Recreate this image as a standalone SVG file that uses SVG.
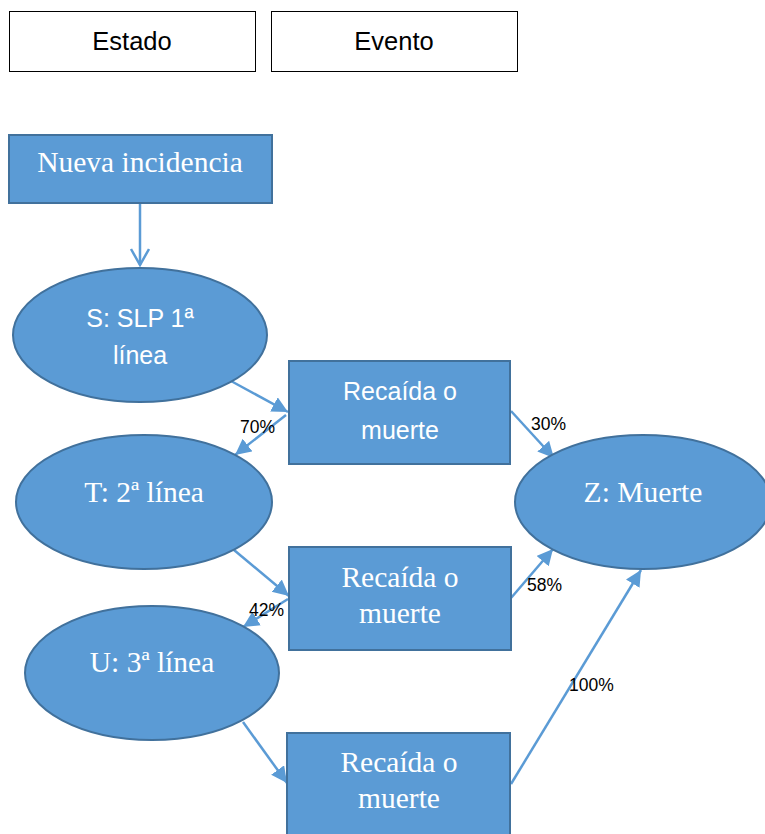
<svg xmlns="http://www.w3.org/2000/svg" width="765" height="834" viewBox="0 0 765 834">
<style>
.legend{fill:#fff;stroke:#000;stroke-width:1}
.lt{font-family:"Liberation Sans",Arial,sans-serif;font-size:25.5px;fill:#000;text-anchor:middle}
.node{fill:#5B9BD5;stroke:#41719C;stroke-width:2}
.serif{font-family:"Liberation Serif","Times New Roman",serif;font-size:29.5px;fill:#fff;text-anchor:middle}
.sans{font-family:"Liberation Sans",Arial,sans-serif;font-size:25px;fill:#fff;text-anchor:middle}
.conn{stroke:#5B9BD5;stroke-width:2.5;fill:none}
.pct{font-family:"Liberation Sans",Arial,sans-serif;font-size:17.5px;fill:#000}
</style>
<defs>
<marker id="tri" markerUnits="userSpaceOnUse" markerWidth="20" markerHeight="20" refX="16" refY="8" orient="auto">
<path d="M0,0 L16,8 L0,16 Z" fill="#5B9BD5"/>
</marker>
<marker id="open" markerUnits="userSpaceOnUse" markerWidth="24" markerHeight="24" refX="18" refY="10" orient="auto">
<path d="M2,1 L18,10 L2,19" fill="none" stroke="#5B9BD5" stroke-width="2.5"/>
</marker>
</defs>
<g id="legend-estado"><rect class="legend" x="9.5" y="11.5" width="246" height="60"/><text class="lt" x="132" y="50">Estado</text></g>
<g id="legend-evento"><rect class="legend" x="271.5" y="11.5" width="246" height="60"/><text class="lt" x="394" y="50">Evento</text></g>
<g id="connectors">
<line class="conn" x1="140" y1="204" x2="140" y2="265" marker-end="url(#open)"/>
<line class="conn" x1="231" y1="381" x2="288" y2="412" marker-end="url(#tri)"/>
<line class="conn" x1="286" y1="415" x2="235" y2="455" marker-end="url(#tri)"/>
<line class="conn" x1="511" y1="411" x2="554" y2="458" marker-end="url(#tri)"/>
<line class="conn" x1="234" y1="550" x2="289" y2="596" marker-end="url(#tri)"/>
<line class="conn" x1="288" y1="599" x2="243" y2="627" marker-end="url(#tri)"/>
<line class="conn" x1="511" y1="598" x2="553" y2="549" marker-end="url(#tri)"/>
<line class="conn" x1="243" y1="722" x2="287" y2="783" marker-end="url(#tri)"/>
<line class="conn" x1="511" y1="784" x2="641" y2="570" marker-end="url(#tri)"/>
<text class="pct" x="240" y="433">70%</text>
<text class="pct" x="531" y="430">30%</text>
<text class="pct" x="249" y="616">42%</text>
<text class="pct" x="527" y="591">58%</text>
<text class="pct" x="569" y="691">100%</text>
</g>
<g id="nueva"><rect class="node" x="9" y="135" width="263" height="68"/><text class="serif" x="140" y="172">Nueva incidencia</text></g>
<g id="S"><ellipse class="node" cx="140" cy="335" rx="127" ry="67"/><text class="sans" x="140" y="327">S: SLP 1ª</text><text class="sans" x="140" y="364">línea</text></g>
<g id="ev1"><rect class="node" x="289" y="361" width="221" height="103"/><text class="sans" x="400" y="400">Recaída o</text><text class="sans" x="400" y="439">muerte</text></g>
<g id="T"><ellipse class="node" cx="144" cy="502" rx="128" ry="67"/><text class="serif" x="144" y="502">T: 2ª línea</text></g>
<g id="ev2"><rect class="node" x="289" y="547" width="222" height="103"/><text class="serif" x="400" y="587">Recaída o</text><text class="serif" x="400" y="623">muerte</text></g>
<g id="U"><ellipse class="node" cx="152" cy="673" rx="127" ry="67"/><text class="serif" x="152" y="672">U: 3ª línea</text></g>
<g id="ev3"><rect class="node" x="287" y="733" width="223" height="110"/><text class="serif" x="399" y="772">Recaída o</text><text class="serif" x="399" y="808">muerte</text></g>
<g id="Z"><ellipse class="node" cx="643" cy="502" rx="128" ry="67"/><text class="serif" x="643" y="502">Z: Muerte</text></g>
</svg>
